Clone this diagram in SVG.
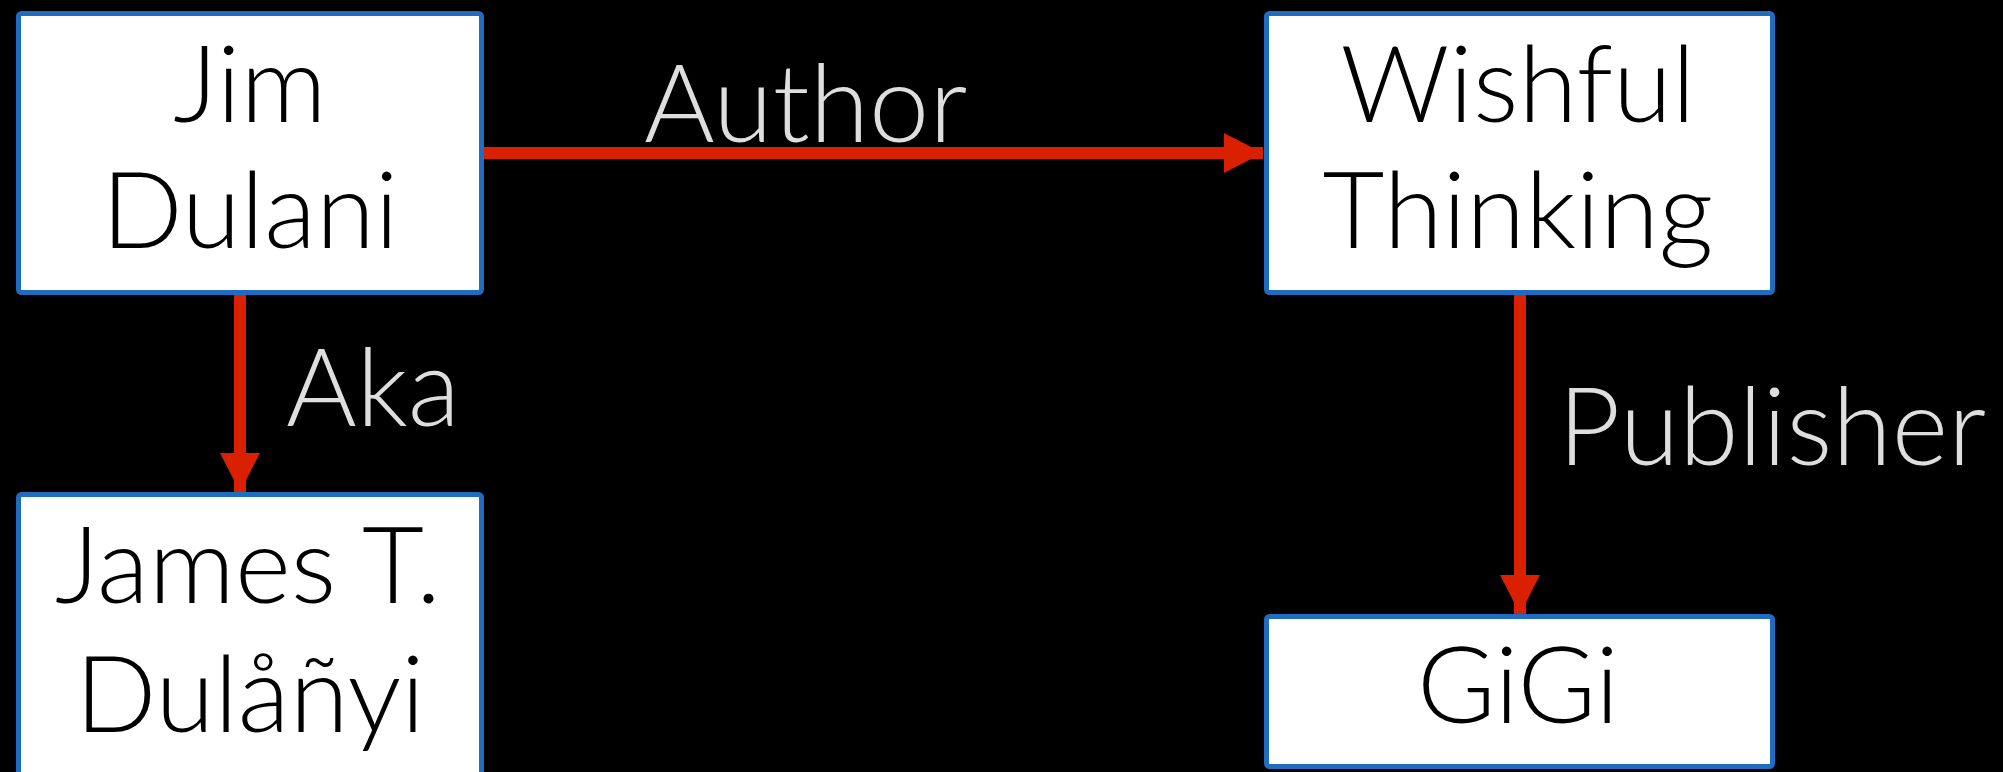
<svg xmlns="http://www.w3.org/2000/svg" width="2003" height="772" viewBox="0 0 2003 772">
<style>
.node rect{fill:#ffffff;stroke:#1f6cc0;stroke-width:5}
.node text{font-family:Lato,"Open Sans","Liberation Sans",sans-serif;font-weight:300;font-size:107px;fill:#000000;text-anchor:middle}
.edge{stroke:#d92000;stroke-width:12;fill:none}
.lbl{font-family:Lato,"Open Sans","Liberation Sans",sans-serif;font-weight:300;font-size:108px;fill:#dedede}
</style>
<defs>
<marker id="ah" markerUnits="userSpaceOnUse" markerWidth="40" markerHeight="40" refX="39" refY="20" orient="auto">
<path d="M0,0 L39,20 L0,40 Z" fill="#d92000"/>
</marker>
</defs>
<rect width="2003" height="772" fill="#000000"/>
<g id="connectors">
<line class="edge" x1="484" y1="153" x2="1263" y2="153" marker-end="url(#ah)"/>
<line class="edge" x1="240" y1="295" x2="240" y2="492" marker-end="url(#ah)"/>
<line class="edge" x1="1520" y1="295" x2="1520" y2="614" marker-end="url(#ah)"/>
<text class="lbl" x="644" y="142">Author</text>
<text class="lbl" x="286" y="426">Aka</text>
<text class="lbl" x="1558" y="465">Publisher</text>
</g>
<g id="jim" class="node">
<rect x="18.5" y="13.5" width="463" height="279" rx="3"/>
<text x="250" y="122">Jim</text>
<text x="250" y="248">Dulani</text>
</g>
<g id="james" class="node">
<rect x="18.5" y="494.5" width="463" height="290" rx="3"/>
<text x="248" y="603">James T.</text>
<text x="250" y="732">Dulåñyi</text>
</g>
<g id="wishful" class="node">
<rect x="1266.5" y="13.5" width="506" height="279" rx="3"/>
<text x="1518" y="122">Wishful</text>
<text x="1518" y="248">Thinking</text>
</g>
<g id="gigi" class="node">
<rect x="1266.5" y="616.5" width="506" height="150" rx="3"/>
<text x="1518" y="723">GiGi</text>
</g>
</svg>
